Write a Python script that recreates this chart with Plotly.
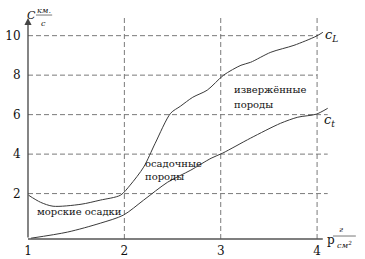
import plotly.graph_objects as go

# Data
cl_x = [1.005, 1.13, 1.26, 1.55, 1.75, 1.96, 2.06, 2.20, 2.32, 2.48, 2.58, 2.71, 2.86, 3.03, 3.21, 3.31, 3.52, 3.76, 3.99, 4.06]
cl_y = [1.92, 1.56, 1.36, 1.46, 1.67, 1.92, 2.43, 3.34, 4.55, 6.07, 6.42, 6.88, 7.24, 8.00, 8.50, 8.65, 9.16, 9.51, 9.97, 10.17]

ct_x = [1.03, 1.41, 1.75, 1.99, 2.20, 2.45, 2.69, 2.90, 3.02, 3.31, 3.62, 3.80, 3.99, 4.11]
ct_y = [-0.26, 0.05, 0.50, 0.91, 1.67, 2.58, 3.19, 3.79, 4.05, 4.81, 5.56, 5.87, 6.02, 6.32]

x_ticks = [1, 2, 3, 4]
y_ticks = [2, 4, 6, 8, 10]

FONT = "DejaVu Serif"
LINE = "#3a3a3a"
GRID = "#7a7a7a"

fig = go.Figure()
fig.add_trace(go.Scatter(x=cl_x, y=cl_y, mode="lines",
                         line=dict(color=LINE, width=1, shape="spline", smoothing=0.8),
                         hoverinfo="skip", showlegend=False))
fig.add_trace(go.Scatter(x=ct_x, y=ct_y, mode="lines",
                         line=dict(color=LINE, width=1, shape="spline", smoothing=0.8),
                         hoverinfo="skip", showlegend=False))

shapes = []
dash = "5px,3px"
for v in y_ticks:
    xend = 4.0 if v >= 8 else 4.11
    shapes.append(dict(type="line", xref="x", yref="y", x0=1, x1=xend, y0=v, y1=v,
                       line=dict(color=GRID, width=1, dash=dash), layer="below"))
for v in x_ticks[1:]:
    shapes.append(dict(type="line", xref="x", yref="y", x0=v, x1=v, y0=-0.3, y1=10.93,
                       line=dict(color=GRID, width=1, dash=dash), layer="below"))
shapes.append(dict(type="line", xref="paper", yref="paper", x0=0, x1=0.927, y0=0, y1=0,
                   line=dict(color="#555555", width=1.5)))
shapes.append(dict(type="line", xref="paper", yref="paper", x0=0.959, x1=1.031, y0=0.013, y1=0.013,
                   line=dict(color="#555555", width=0.8)))
shapes.append(dict(type="line", xref="paper", yref="paper", x0=0.025, x1=0.076, y0=0.978, y1=0.978,
                   line=dict(color="#555555", width=0.8)))

ann = []
ann.append(dict(x=1, y=10.9, ax=1, ay=-0.3, xref="x", yref="y", axref="x", ayref="y",
                text="", showarrow=True, arrowhead=2, arrowsize=1.1, arrowwidth=1.3,
                arrowcolor="#444444"))

def txt(x, y, s, size=12, xa="left", xref="x", yref="y", color="#111111"):
    ann.append(dict(x=x, y=y, xref=xref, yref=yref, text=s, showarrow=False,
                    xanchor=xa, yanchor="middle",
                    font=dict(family=FONT, size=size, color=color)))

txt(3.117, 7.25, "извержённые", size=10)
txt(3.117, 6.49, "породы", size=10)
txt(2.193, 3.55, "осадочные", size=10)
txt(2.193, 2.85, "породы", size=10)
txt(1.073, 1.07, "морские осадки", size=10)
txt(4.065, 10.0, "<i>c</i><sub><i>L</i></sub>", size=13)
txt(4.05, 5.72, "<i>c</i><sub><i>t</i></sub>", size=13)
txt(0.934, -0.004, "p", size=12, xref="paper", yref="paper")
txt(0.985, 0.040, "<i>г</i>", size=8, xa="center", xref="paper", yref="paper")
txt(0.995, -0.026, "<i>см<sup>2</sup></i>", size=8, xa="center", xref="paper", yref="paper")
txt(0.010, 0.978, "<i>C</i>", size=11, xref="paper", yref="paper", xa="center")
txt(0.050, 1.0, "<i>км.</i>", size=8, xa="center", xref="paper", yref="paper")
txt(0.048, 0.939, "<i>с</i>", size=8, xa="center", xref="paper", yref="paper")

fig.update_layout(
    width=365, height=259,
    margin=dict(l=28, r=19, t=10, b=20, autoexpand=False),
    paper_bgcolor="white", plot_bgcolor="white",
    font=dict(family=FONT),
    shapes=shapes, annotations=ann,
    xaxis=dict(range=[1, 4.3], tickvals=x_ticks, ticktext=[str(v) for v in x_ticks],
               showgrid=False, zeroline=False, showline=False,
               ticks="outside", ticklen=1, tickcolor="rgba(0,0,0,0)",
               tickfont=dict(family=FONT, size=12, color="#111111"), automargin=False),
    yaxis=dict(range=[-0.3, 11.3], tickvals=y_ticks, ticktext=[str(v) for v in y_ticks],
               showgrid=False, zeroline=False, showline=False,
               ticks="outside", ticklen=4, tickcolor="rgba(0,0,0,0)",
               tickfont=dict(family=FONT, size=12, color="#111111"), automargin=False),
)

fig.write_html("out.html")
